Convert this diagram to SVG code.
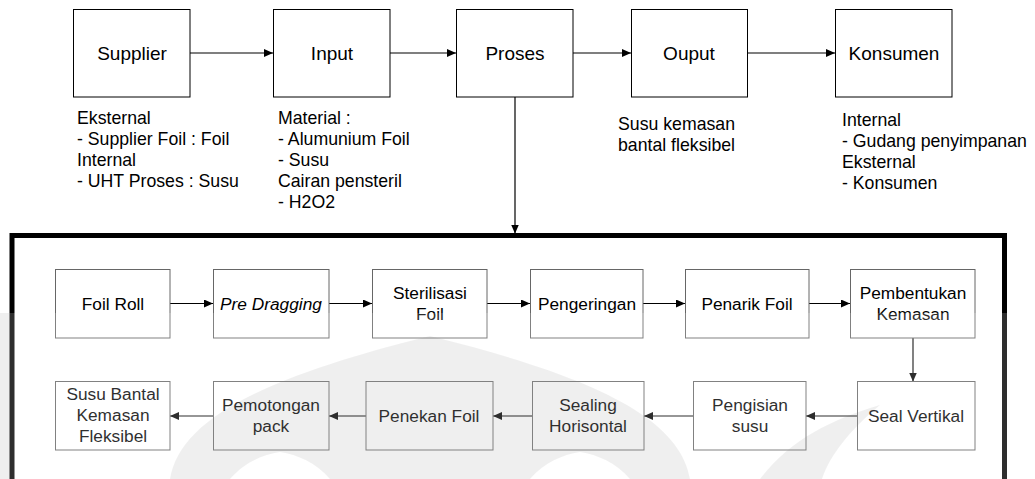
<svg xmlns="http://www.w3.org/2000/svg" width="1035" height="479" viewBox="0 0 1035 479">
  <style>
    text { font-family: "Liberation Sans", Arial, sans-serif; fill: #000; }
    .big { font-size: 19px; text-anchor: middle; }
    .lbl { font-size: 17.7px; }
    .step { font-size: 17.3px; text-anchor: middle; }
    .top { fill: #fff; stroke: #000; stroke-width: 1; }
    .box { fill: none; stroke: #666; stroke-width: 1; }
    .wire { fill: none; stroke: #000; stroke-width: 1.2; }
    .frame { fill: none; stroke: #000; stroke-width: 5; }
    .wm { fill: #000; fill-opacity: 0.075; }
  </style>
  <defs>
    <marker id="arrow" markerUnits="userSpaceOnUse" markerWidth="10" markerHeight="8" refX="9" refY="4" orient="auto">
      <path d="M0,0 L9,4 L0,8 Z" fill="#000"/>
    </marker>
  </defs>

  <rect width="1035" height="479" fill="#fff"/>

  <!-- background emblem, faint -->
  <g id="emblem">
    <path class="wm" fill-rule="evenodd" d="M170,479 C180,420 260,378 430,336 C600,378 680,420 690,479 Z
      M230,479 C245,462 262,455 280,452 C298,455 315,462 330,479 Z
      M530,479 C545,462 562,455 580,452 C598,455 615,462 630,479 Z"/>
    <path class="wm" d="M760,479 C790,440 830,420 880,405 C850,430 830,455 822,479 Z"/>
    <path class="wm" d="M0,313 L12,313 L12,479 L0,479 Z"/>
  </g>

  <!-- connectors -->
  <g id="connectors">
    <line class="wire" x1="190" y1="53" x2="273" y2="53" marker-end="url(#arrow)"/>
    <line class="wire" x1="390" y1="53" x2="456" y2="53" marker-end="url(#arrow)"/>
    <line class="wire" x1="573" y1="53" x2="631" y2="53" marker-end="url(#arrow)"/>
    <line class="wire" x1="747" y1="53" x2="835" y2="53" marker-end="url(#arrow)"/>
    <line class="wire" x1="515" y1="97" x2="515" y2="233.5" marker-end="url(#arrow)"/>

    <line class="wire" x1="170" y1="303.5" x2="213" y2="303.5" marker-end="url(#arrow)"/>
    <line class="wire" x1="329" y1="303.5" x2="372" y2="303.5" marker-end="url(#arrow)"/>
    <line class="wire" x1="487" y1="303.5" x2="530" y2="303.5" marker-end="url(#arrow)"/>
    <line class="wire" x1="643" y1="303.5" x2="685" y2="303.5" marker-end="url(#arrow)"/>
    <line class="wire" x1="809" y1="303.5" x2="850" y2="303.5" marker-end="url(#arrow)"/>
    <line class="wire" x1="913" y1="338" x2="913" y2="381.5" marker-end="url(#arrow)"/>

    <line class="wire" x1="857" y1="416" x2="806" y2="416" marker-end="url(#arrow)"/>
    <line class="wire" x1="693" y1="416" x2="644" y2="416" marker-end="url(#arrow)"/>
    <line class="wire" x1="532" y1="416" x2="493" y2="416" marker-end="url(#arrow)"/>
    <line class="wire" x1="366" y1="416" x2="329" y2="416" marker-end="url(#arrow)"/>
    <line class="wire" x1="213" y1="416" x2="170" y2="416" marker-end="url(#arrow)"/>
  </g>

  <!-- process frame -->
  <path id="frame" class="frame" d="M12,482 V235.5 H1004.5 V482"/>

  <!-- upper chain -->
  <g id="supplier">
    <rect class="top" x="73.5" y="9.5" width="116.5" height="87.5"/>
    <text class="big" x="132" y="60">Supplier</text>
    <text class="lbl" x="77" y="124">Eksternal</text>
    <text class="lbl" x="77" y="145">- Supplier Foil : Foil</text>
    <text class="lbl" x="77" y="166">Internal</text>
    <text class="lbl" x="77" y="187">- UHT Proses : Susu</text>
  </g>
  <g id="input">
    <rect class="top" x="273.5" y="9.5" width="116.5" height="87.5"/>
    <text class="big" x="332" y="60">Input</text>
    <text class="lbl" x="278" y="124">Material :</text>
    <text class="lbl" x="278" y="145">- Alumunium Foil</text>
    <text class="lbl" x="278" y="166">- Susu</text>
    <text class="lbl" x="278" y="187">Cairan pensteril</text>
    <text class="lbl" x="278" y="208">- H2O2</text>
  </g>
  <g id="proses">
    <rect class="top" x="456.5" y="9.5" width="116.5" height="87.5"/>
    <text class="big" x="515" y="60">Proses</text>
  </g>
  <g id="ouput">
    <rect class="top" x="631.5" y="9.5" width="116" height="87.5"/>
    <text class="big" x="689" y="60">Ouput</text>
    <text class="lbl" x="618" y="130">Susu kemasan</text>
    <text class="lbl" x="618" y="151">bantal fleksibel</text>
  </g>
  <g id="konsumen">
    <rect class="top" x="835.5" y="9.5" width="116.5" height="87.5"/>
    <text class="big" x="894" y="60">Konsumen</text>
    <text class="lbl" x="842" y="126">Internal</text>
    <text class="lbl" x="842" y="147">- Gudang penyimpanan</text>
    <text class="lbl" x="842" y="168">Eksternal</text>
    <text class="lbl" x="842" y="189">- Konsumen</text>
  </g>

  <!-- first row of steps -->
  <g id="foil-roll">
    <rect class="box" x="55.5" y="269.5" width="114.5" height="68.5"/>
    <text class="step" x="113" y="310">Foil Roll</text>
  </g>
  <g id="pre-dragging">
    <rect class="box" x="213.5" y="269.5" width="115.5" height="68.5"/>
    <text class="step" x="271" y="310" font-style="italic">Pre Dragging</text>
  </g>
  <g id="sterilisasi">
    <rect class="box" x="372.5" y="269.5" width="114.5" height="68.5"/>
    <text class="step" x="430" y="299">Sterilisasi</text>
    <text class="step" x="430" y="320">Foil</text>
  </g>
  <g id="pengeringan">
    <rect class="box" x="530.5" y="269.5" width="112.5" height="68.5"/>
    <text class="step" x="587" y="310">Pengeringan</text>
  </g>
  <g id="penarik-foil">
    <rect class="box" x="685.5" y="269.5" width="123.5" height="68.5"/>
    <text class="step" x="747" y="310">Penarik Foil</text>
  </g>
  <g id="pembentukan">
    <rect class="box" x="850.5" y="269.5" width="124.5" height="68.5"/>
    <text class="step" x="913" y="299">Pembentukan</text>
    <text class="step" x="913" y="320">Kemasan</text>
  </g>

  <!-- second row of steps -->
  <g id="seal-vertikal">
    <rect class="box" x="857.5" y="381.5" width="117.5" height="68.5"/>
    <text class="step" x="916" y="422">Seal Vertikal</text>
  </g>
  <g id="pengisian">
    <rect class="box" x="693.5" y="381.5" width="112.5" height="68.5"/>
    <text class="step" x="750" y="411">Pengisian</text>
    <text class="step" x="750" y="432">susu</text>
  </g>
  <g id="sealing">
    <rect class="box" x="532.5" y="381.5" width="111.5" height="68.5"/>
    <text class="step" x="588" y="411">Sealing</text>
    <text class="step" x="588" y="432">Horisontal</text>
  </g>
  <g id="penekan-foil">
    <rect class="box" x="366" y="381.5" width="127" height="68.5"/>
    <text class="step" x="429" y="422">Penekan Foil</text>
  </g>
  <g id="pemotongan">
    <rect class="box" x="213.5" y="381.5" width="115.5" height="68.5"/>
    <text class="step" x="271" y="411">Pemotongan</text>
    <text class="step" x="271" y="432">pack</text>
  </g>
  <g id="susu-bantal">
    <rect class="box" x="55.5" y="381.5" width="114.5" height="68.5"/>
    <text class="step" x="113" y="400">Susu Bantal</text>
    <text class="step" x="113" y="421">Kemasan</text>
    <text class="step" x="113" y="442">Fleksibel</text>
  </g>

  <!-- lower area is printed slightly lighter -->
  <rect x="0" y="313" width="1035" height="166" fill="#fff" fill-opacity="0.18"/>
</svg>
